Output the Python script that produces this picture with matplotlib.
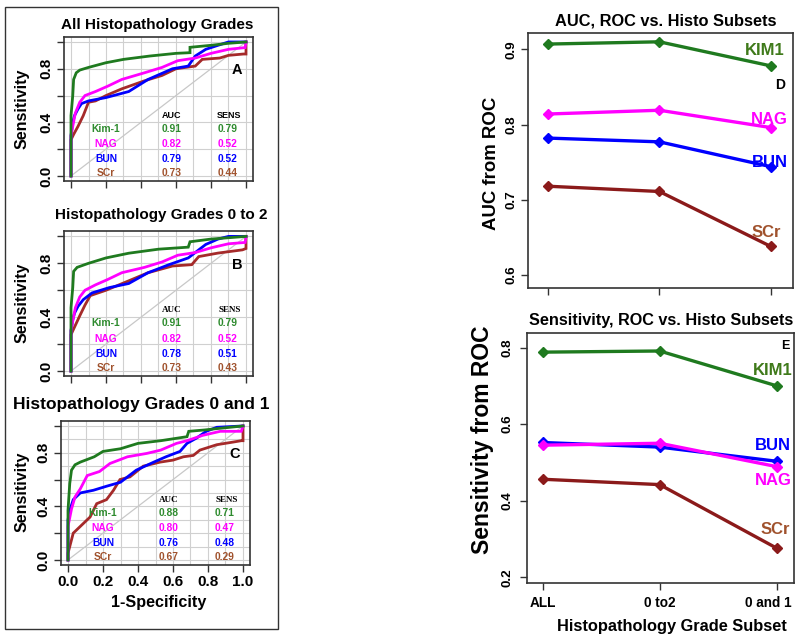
import matplotlib
matplotlib.use("Agg")
import matplotlib.pyplot as plt
import matplotlib.transforms as mtransforms
from matplotlib.patches import Rectangle

plt.rcParams['font.family'] = ['Liberation Sans', 'DejaVu Sans']
plt.rcParams['font.weight'] = 'bold'

W, H = 800, 642

# ---------------- data ----------------
markers = ['Kim-1', 'NAG', 'BUN', 'SCr']
subsets = ['ALL', '0 to2', '0 and 1']

# panel A : all grades
kimA_x = [0, 0, 0.01, 0.015, 0.03, 0.05, 0.1, 0.2, 0.3, 0.45, 0.6, 0.68, 0.68, 0.8, 0.9, 1.0]
kimA_y = [0, 0.45, 0.6, 0.72, 0.77, 0.79, 0.81, 0.845, 0.87, 0.895, 0.915, 0.92, 0.96, 0.975, 0.99, 1.0]
nagA_x = [0, 0, 0.01, 0.025, 0.05, 0.08, 0.14, 0.21, 0.29, 0.42, 0.52, 0.61, 0.71, 0.8, 0.9, 0.995, 1.0]
nagA_y = [0, 0.3, 0.37, 0.47, 0.55, 0.6, 0.63, 0.67, 0.72, 0.77, 0.81, 0.86, 0.88, 0.915, 0.945, 0.958, 1.0]
bunA_x = [0, 0, 0.01, 0.02, 0.04, 0.06, 0.1, 0.2, 0.33, 0.44, 0.58, 0.67, 0.71, 0.77, 0.84, 0.9, 1.0]
bunA_y = [0, 0.3, 0.4, 0.45, 0.5, 0.54, 0.56, 0.585, 0.63, 0.72, 0.8, 0.82, 0.895, 0.945, 0.975, 1.0, 1.0]
scrA_x = [0, 0, 0.015, 0.04, 0.07, 0.1, 0.14, 0.2, 0.29, 0.42, 0.52, 0.6, 0.71, 0.75, 0.85, 0.9, 0.985, 1.0, 1.0]
scrA_y = [0, 0.27, 0.31, 0.37, 0.45, 0.55, 0.56, 0.6, 0.65, 0.71, 0.75, 0.8, 0.82, 0.87, 0.88, 0.9, 0.91, 0.91, 1.0]
aucA = [0.91, 0.82, 0.79, 0.73]
sensA = [0.79, 0.52, 0.52, 0.44]

# panel B : grades 0 to 2
kimB_x = [0, 0, 0.01, 0.015, 0.035, 0.1, 0.2, 0.33, 0.5, 0.67, 0.68, 0.8, 0.9, 1.0]
kimB_y = [0, 0.47, 0.62, 0.74, 0.77, 0.80, 0.84, 0.875, 0.905, 0.92, 0.96, 0.98, 0.99, 1.0]
nagB_x = [0, 0, 0.01, 0.025, 0.05, 0.08, 0.14, 0.21, 0.29, 0.42, 0.52, 0.61, 0.71, 0.8, 0.9, 0.995, 1.0]
nagB_y = [0, 0.3, 0.37, 0.47, 0.55, 0.6, 0.64, 0.68, 0.73, 0.77, 0.81, 0.86, 0.88, 0.915, 0.945, 0.955, 1.0]
bunB_x = [0, 0, 0.01, 0.02, 0.04, 0.07, 0.12, 0.22, 0.33, 0.44, 0.56, 0.67, 0.71, 0.77, 0.84, 0.9, 1.0]
bunB_y = [0, 0.3, 0.38, 0.43, 0.48, 0.53, 0.58, 0.62, 0.65, 0.73, 0.79, 0.84, 0.88, 0.94, 0.98, 1.0, 1.0]
scrB_x = [0, 0, 0.025, 0.05, 0.08, 0.11, 0.2, 0.33, 0.44, 0.58, 0.69, 0.73, 0.84, 0.98, 1.0, 1.0]
scrB_y = [0, 0.27, 0.34, 0.41, 0.49, 0.56, 0.6, 0.67, 0.73, 0.78, 0.79, 0.85, 0.876, 0.9, 0.91, 1.0]
aucB = [0.91, 0.82, 0.78, 0.73]
sensB = [0.79, 0.52, 0.51, 0.43]

# panel C : grades 0 and 1
kimC_x = [0, 0, 0.01, 0.02, 0.04, 0.07, 0.15, 0.2, 0.3, 0.4, 0.53, 0.68, 0.69, 0.78, 0.85, 1.0]
kimC_y = [0, 0.37, 0.57, 0.67, 0.71, 0.73, 0.77, 0.81, 0.83, 0.87, 0.89, 0.92, 0.96, 0.97, 0.98, 1.0]
nagC_x = [0, 0, 0.02, 0.04, 0.07, 0.11, 0.18, 0.24, 0.34, 0.45, 0.53, 0.62, 0.68, 0.77, 0.87, 0.99, 1.0]
nagC_y = [0, 0.25, 0.38, 0.47, 0.53, 0.63, 0.66, 0.72, 0.77, 0.795, 0.82, 0.87, 0.89, 0.93, 0.96, 0.96, 1.0]
bunC_x = [0, 0, 0.01, 0.03, 0.07, 0.145, 0.22, 0.3, 0.39, 0.49, 0.56, 0.64, 0.68, 0.735, 0.79, 0.85, 1.0]
bunC_y = [0, 0.3, 0.37, 0.45, 0.5, 0.52, 0.55, 0.58, 0.67, 0.73, 0.77, 0.81, 0.87, 0.91, 0.96, 0.99, 1.0]
scrC_x = [0, 0, 0.01, 0.03, 0.07, 0.126, 0.164, 0.22, 0.26, 0.297, 0.354, 0.43, 0.526, 0.6, 0.66, 0.716, 0.754, 0.85, 0.945, 0.99, 1.0, 1.0]
scrC_y = [0, 0.05, 0.1, 0.2, 0.25, 0.32, 0.42, 0.45, 0.52, 0.6, 0.62, 0.7, 0.73, 0.745, 0.77, 0.78, 0.82, 0.86, 0.88, 0.89, 0.89, 1.0]
aucC = [0.88, 0.80, 0.76, 0.67]
sensC = [0.71, 0.47, 0.48, 0.29]

# panel D : AUC vs subsets
auc_kim1 = [0.907, 0.910, 0.878]
auc_nag = [0.814, 0.819, 0.796]
auc_bun = [0.782, 0.777, 0.744]
auc_scr = [0.718, 0.711, 0.638]

# panel E : sensitivity vs subsets
sens_kim1 = [0.788, 0.791, 0.700]
sens_nag = [0.545, 0.550, 0.489]
sens_bun = [0.552, 0.540, 0.503]
sens_scr = [0.456, 0.442, 0.276]

# ---------------- styles ----------------
line_cols = ['#1f7a1f', '#ff00ff', '#0000ff', '#a52a2a']
text_cols = ['#2e8b2e', '#ff00ff', '#0000ff', '#a0522d']
right_line_cols = ['#1f7a1f', '#ff00ff', '#0000ff', '#8b1a1a']
right_text_cols = ['#3f7a1a', '#ff00ff', '#0000ff', '#a0522d']

fig = plt.figure(figsize=(W / 100, H / 100), dpi=100)


def add_ax(left, top, w, h):
    return fig.add_axes([left / W, 1 - (top + h) / H, w / W, h / H])


def ftext(px, py, s, **kw):
    fig.text(px / W, 1 - py / H, s, **kw)


# outer box round the left panels
fig.add_artist(Rectangle((5 / W, 1 - 629 / H), 273 / W, 622 / H,
                         transform=fig.transFigure, fill=False, lw=1.0, ec='#333333'))


def draw_roc(ax, curves, aucs, senss, letter, show_xlabels, hdr_family, ystep):
    ax.set_xlim(-0.04, 1.04)
    ax.set_ylim(-0.04, 1.04)
    for g in [i / 10 for i in range(11)]:
        ax.axvline(g, color='#d0d0d0', lw=0.8, zorder=0)
    ny = int(round(1 / ystep))
    for k in range(ny + 1):
        ax.axhline(k * ystep, color='#d0d0d0', lw=0.8, zorder=0)
    ax.plot([0, 1], [0, 1], color='#c8c8c8', lw=0.9, zorder=1)
    for (xs, ys), c in zip(curves[::-1], line_cols[::-1]):
        ax.plot(xs, ys, color=c, lw=2.0, solid_joinstyle='miter', zorder=2)
    for sp in ax.spines.values():
        sp.set_color('#333333')
        sp.set_linewidth(1.2)
    ticks = [0, 0.2, 0.4, 0.6, 0.8, 1.0]
    ax.set_xticks(ticks)
    if show_xlabels:
        ax.set_xticklabels(['0.0', '0.2', '0.4', '0.6', '0.8', '1.0'],
                           fontsize=11, fontweight='bold')
    else:
        ax.set_xticklabels([])
    ax.set_yticks(ticks)
    ax.set_yticklabels(['0.0', '', '0.4', '', '0.8', ''], fontsize=11,
                       fontweight='bold', rotation=90, va='center')
    ax.tick_params(axis='both', length=5, width=1.0, color='#333333', pad=2)
    ax.tick_params(axis='y', pad=3)
    ax.text(0.575, 0.45, 'AUC', fontsize=6.5, fontweight='bold', ha='center',
            va='center', family=hdr_family)
    ax.text(0.905, 0.45, 'SENS', fontsize=6.5, fontweight='bold', ha='center',
            va='center', family=hdr_family)
    rows = [0.353, 0.238, 0.129, 0.022]
    for name, a, s, yv, c in zip(markers, aucs, senss, rows, text_cols):
        ax.text(0.2, yv, name, color=c, fontsize=7.4, fontweight='bold',
                ha='center', va='center')
        ax.text(0.576, yv, '%.2f' % a, color=c, fontsize=7.4, fontweight='bold',
                ha='center', va='center')
        ax.text(0.895, yv, '%.2f' % s, color=c, fontsize=7.4, fontweight='bold',
                ha='center', va='center')
    ax.text(0.95, 0.79, letter, fontsize=10.5, fontweight='bold', ha='center',
            va='center')


serif = ['Liberation Serif', 'DejaVu Serif']
sans = ['Liberation Sans', 'DejaVu Sans']

axA = add_ax(64, 36.6, 189, 144.7)
draw_roc(axA, [(kimA_x, kimA_y), (nagA_x, nagA_y), (bunA_x, bunA_y), (scrA_x, scrA_y)],
         aucA, sensA, 'A', False, sans, 0.2)
axB = add_ax(64, 231, 189, 145.4)
draw_roc(axB, [(kimB_x, kimB_y), (nagB_x, nagB_y), (bunB_x, bunB_y), (scrB_x, scrB_y)],
         aucB, sensB, 'B', False, serif, 0.2)
axC = add_ax(61, 420.6, 189, 144.7)
draw_roc(axC, [(kimC_x, kimC_y), (nagC_x, nagC_y), (bunC_x, bunC_y), (scrC_x, scrC_y)],
         aucC, sensC, 'C', True, serif, 0.1)

ftext(157, 25, 'All Histopathology Grades', fontsize=11, fontweight='bold',
      ha='center', va='center')
ftext(161, 215, 'Histopathology Grades 0 to 2', fontsize=11, fontweight='bold',
      ha='center', va='center')
ftext(141, 405, 'Histopathology Grades 0 and 1', fontsize=12.5, fontweight='bold',
      ha='center', va='center')
for py in (109, 303, 492):
    ftext(22, py, 'Sensitivity', fontsize=11.5, fontweight='bold', rotation=90,
          ha='center', va='center')
ftext(159, 603, '1-Specificity', fontsize=11.6, fontweight='bold', ha='center',
      va='center')


# ---------------- right panels ----------------
def draw_lines(ax, series, cols):
    xs = [1, 2, 3]
    for ys, c in zip(series[::-1], cols[::-1]):
        ax.plot(xs, ys, color=c, lw=2.4, marker='D', markersize=5.5,
                markeredgecolor=c, markerfacecolor=c)
    for sp in ax.spines.values():
        sp.set_color('#333333')
        sp.set_linewidth(1.2)
    ax.set_xticks(xs)


axD = add_ax(528, 33, 265, 255)
draw_lines(axD, [auc_kim1, auc_nag, auc_bun, auc_scr], right_line_cols)
axD.set_xlim(0.82, 3.2)
axD.set_ylim(0.5827, 0.9217)
axD.set_xticklabels([])
axD.set_yticks([0.6, 0.7, 0.8, 0.9])
axD.set_yticklabels(['0.6', '0.7', '0.8', '0.9'], fontsize=9.7, fontweight='bold',
                    rotation=90, va='center')
axD.tick_params(axis='both', length=5, width=1.0, color='#333333', pad=2.5)
axD.text(2.946, 0.899, 'KIM1', color=right_text_cols[0], fontsize=12, fontweight='bold',
         ha='center', va='center')
axD.text(3.08, 0.8526, 'D', color='black', fontsize=10, fontweight='bold',
         ha='center', va='center')
axD.text(2.99, 0.8073, 'NAG', color=right_text_cols[1], fontsize=12, fontweight='bold',
         ha='center', va='center')
axD.text(2.99, 0.7502, 'BUN', color=right_text_cols[2], fontsize=12, fontweight='bold',
         ha='center', va='center')
axD.text(2.964, 0.657, 'SCr', color=right_text_cols[3], fontsize=12, fontweight='bold',
         ha='center', va='center')
ftext(666, 21, 'AUC, ROC vs. Histo Subsets', fontsize=11.8, fontweight='bold',
      ha='center', va='center')
ftext(492, 163, 'AUC from ROC', fontsize=13.4, fontweight='bold', rotation=90,
      ha='center', va='center')

axE = add_ax(527, 333, 267, 250)
draw_lines(axE, [sens_kim1, sens_nag, sens_bun, sens_scr], right_line_cols)
axE.set_xlim(0.866, 3.148)
axE.set_ylim(0.185, 0.838)
axE.set_xticklabels(subsets, fontsize=9.8, fontweight='bold')
axE.set_yticks([0.2, 0.4, 0.6, 0.8])
axE.set_yticklabels(['0.2', '0.4', '0.6', '0.8'], fontsize=9.7, fontweight='bold',
                    rotation=90, va='center')
axE.tick_params(axis='both', length=5, width=1.0, color='#333333', pad=4.5)
# shift last subset label left so it fits, as in the original
last = axE.get_xticklabels()[-1]
last.set_transform(last.get_transform() +
                   mtransforms.ScaledTranslation(-8 / 100, 0, fig.dpi_scale_trans))
axE.text(3.07, 0.804, 'E', color='black', fontsize=9, fontweight='bold',
         ha='center', va='center')
axE.text(2.968, 0.741, 'KIM1', color=right_text_cols[0], fontsize=12, fontweight='bold',
         ha='center', va='center')
axE.text(2.968, 0.545, 'BUN', color=right_text_cols[2], fontsize=12, fontweight='bold',
         ha='center', va='center')
axE.text(2.968, 0.454, 'NAG', color=right_text_cols[1], fontsize=12, fontweight='bold',
         ha='center', va='center')
axE.text(2.985, 0.326, 'SCr', color=right_text_cols[3], fontsize=12, fontweight='bold',
         ha='center', va='center')
ftext(661, 321, 'Sensitivity, ROC vs. Histo Subsets', fontsize=11.7, fontweight='bold',
      ha='center', va='center')
ftext(482, 440, 'Sensitivity from ROC', fontsize=16.5, fontweight='bold', rotation=90,
      ha='center', va='center')
ftext(672, 627, 'Histopathology Grade Subset', fontsize=11.8, fontweight='bold',
      ha='center', va='center')

fig.savefig('out.png', dpi=100)
